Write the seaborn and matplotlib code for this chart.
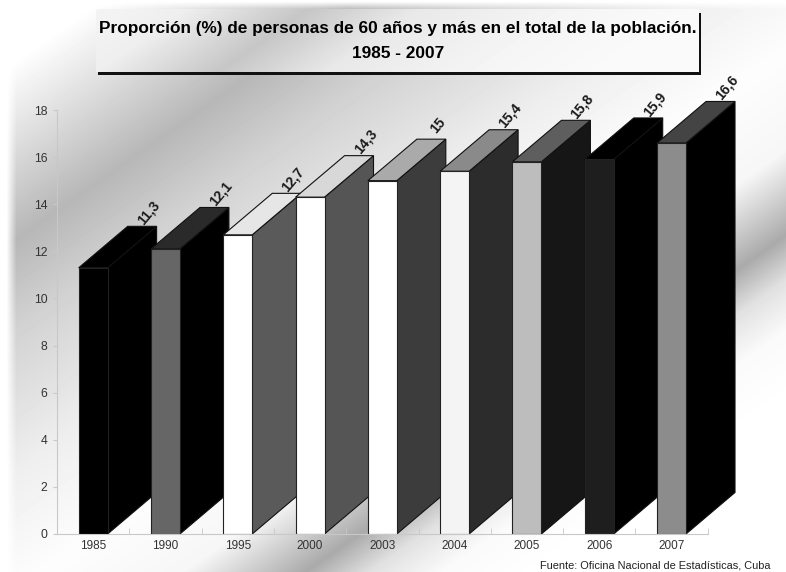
import numpy as np
import pandas as pd
import matplotlib
matplotlib.use("Agg")
import matplotlib.pyplot as plt
from matplotlib.patches import Polygon, Rectangle
import seaborn as sns

years = ["1985", "1990", "1995", "2000", "2003", "2004", "2005", "2006", "2007"]
values = [11.3, 12.1, 12.7, 14.3, 15.0, 15.4, 15.8, 15.9, 16.6]
labels = ["11,3", "12,1", "12,7", "14,3", "15", "15,4", "15,8", "15,9", "16,6"]
front_colors = ["#000000", "#666666", "#ffffff", "#ffffff", "#ffffff", "#f4f4f4", "#bdbdbd", "#1e1e1e", "#8c8c8c"]
top_colors = ["#000000", "#2a2a2a", "#e6e6e6", "#d8d8d8", "#aaaaaa", "#8a8a8a", "#5e5e5e", "#000000", "#444444"]
side_colors = ["#000000", "#000000", "#5a5a5a", "#555555", "#3c3c3c", "#2c2c2c", "#161616", "#000000", "#000000"]
y_ticks = [0, 2, 4, 6, 8, 10, 12, 14, 16, 18]

W, H = 786, 572
plt.rcParams["font.family"] = ["Liberation Sans", "DejaVu Sans"]
fig = plt.figure(figsize=(W / 100, H / 100), dpi=100)

# diagonal sheen background, fading to white at the outer margin
bg = fig.add_axes([0, 0, 1, 1], zorder=0)
yy, xx = np.mgrid[0:H, 0:W]
t = 0.7 * xx + yy
shade = np.interp(t, [0, 70, 250, 340, 480, 600, 700, 785, 830, 880, 950],
                  [255, 255, 183, 210, 238, 253, 246, 170, 225, 250, 255])
fade = np.clip((xx - 6) / 10, 0, 1) * np.clip((yy - 1) / 8, 0, 1)
shade = 255 - (255 - shade) * fade
bg.imshow(shade, cmap="gray", vmin=0, vmax=255, aspect="auto", interpolation="bilinear")
bg.axis("off")

left, right, bottom, top = 57, 707.7, 534, 110
ax = fig.add_axes([left / W, 1 - bottom / H, (right - left) / W, (bottom - top) / H], zorder=1)
ax.patch.set_alpha(0)

df = pd.DataFrame({"year": years, "value": values})
sns.barplot(data=df, x="year", y="value", hue="year", palette=front_colors, legend=False,
            width=0.4, ax=ax, saturation=1, edgecolor="#222222", linewidth=0.8)
ax.set_xlim(-0.5, 8.5)
ax.set_ylim(0, 18)
ax.set_axisbelow(True)

DX = 49 / 72.3
DY = 41.5 / 23.55
bars = sorted(ax.patches, key=lambda p: p.get_x())
for i, b in enumerate(bars):
    x0, x1, h = b.get_x(), b.get_x() + b.get_width(), b.get_height()
    z = 2 + i * 0.01
    b.set_zorder(z + 0.005)
    ax.add_patch(Polygon([(x1, 0), (x1 + DX, DY), (x1 + DX, h + DY), (x1, h)], closed=True,
                         facecolor=side_colors[i], edgecolor="#111111", linewidth=0.8,
                         zorder=z, clip_on=False))
    ax.add_patch(Polygon([(x0, h), (x0 + DX, h + DY), (x1 + DX, h + DY), (x1, h)], closed=True,
                         facecolor=top_colors[i], edgecolor="#111111", linewidth=0.8,
                         zorder=z, clip_on=False))
    ax.annotate(labels[i], xy=(x1 + DX, h + DY), xytext=(-5.8, 10.0), textcoords="offset points",
                rotation=50, ha="center", va="center", fontsize=10, fontweight="bold",
                color="#1a1a1a", rotation_mode="anchor", zorder=1.5, annotation_clip=False)

for s in ["top", "right"]:
    ax.spines[s].set_visible(False)
for s in ["left", "bottom"]:
    ax.spines[s].set_color("#c8c8c8")
    ax.spines[s].set_linewidth(0.8)
ax.set_yticks(y_ticks)
ax.set_xlabel("")
ax.set_ylabel("")
ax.set_xticks(np.arange(-0.5, 9), minor=True)
ax.tick_params(axis="x", which="major", length=0, labelsize=8.5, colors="#333333", pad=4)
ax.tick_params(axis="x", which="minor", length=4, direction="in", color="#c8c8c8")
ax.tick_params(axis="y", length=3, labelsize=8.8, color="#c8c8c8", labelcolor="#333333", pad=4)

# title box with drop shadow
ov = fig.add_axes([0, 0, 1, 1], zorder=2)
ov.patch.set_alpha(0)
ov.axis("off")
ov.add_patch(Rectangle((98, 13), 603, 62, facecolor="#111111", edgecolor="none", zorder=1))
by, bx = np.mgrid[0:63, 96:699]
bt = 0.7 * bx + by
box_shade = np.interp(bt, [60, 130, 215, 290, 400, 490], [245, 238, 198, 232, 245, 250])
ov.imshow(box_shade, cmap="gray", vmin=0, vmax=255, extent=(96, 699, 72, 9), aspect="auto", zorder=2)
ov.set_xlim(0, W)
ov.set_ylim(H, 0)
ov.text(398, 29, "Proporción (%) de personas de 60 años y más en el total de la población.",
        ha="center", va="center", fontsize=12.4, fontweight="bold", color="#000000", zorder=3)
ov.text(398, 54, "1985 - 2007", ha="center", va="center", fontsize=12.4, fontweight="bold",
        color="#000000", zorder=3)
ov.text(770, 566, "Fuente: Oficina Nacional de Estadísticas, Cuba", ha="right", va="center",
        fontsize=7.9, color="#222222", zorder=3)

fig.savefig("out.png", dpi=100)
